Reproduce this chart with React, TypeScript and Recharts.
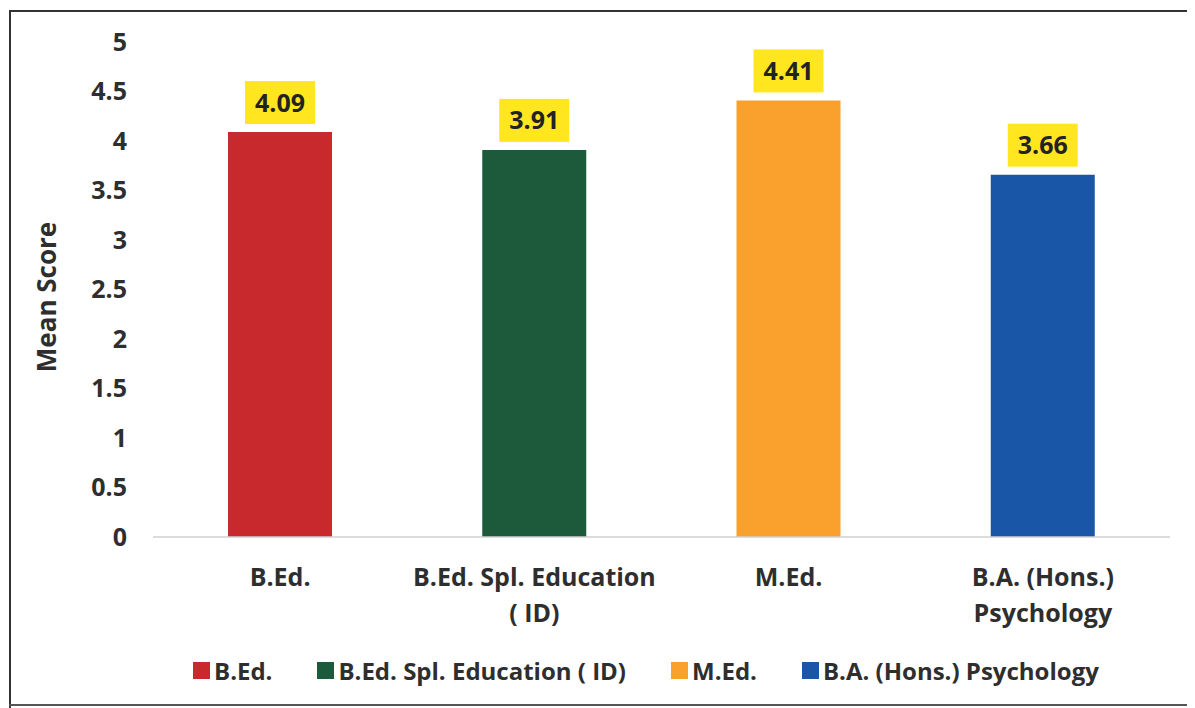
import React from "react";
import { BarChart, Bar, XAxis, YAxis, Cell, Legend, LabelList } from "recharts";

const categories = ["B.Ed.", "B.Ed. Spl. Education ( ID)", "M.Ed.", "B.A. (Hons.) Psychology"];
const tickLines = [["B.Ed."], ["B.Ed. Spl. Education", "( ID)"], ["M.Ed."], ["B.A. (Hons.)", "Psychology"]];
const meanScores = [4.09, 3.91, 4.41, 3.66];
const barColors = ["#C8292D", "#1C5A3B", "#F9A12C", "#1A56A8"];
const yTicks = [0, 0.5, 1, 1.5, 2, 2.5, 3, 3.5, 4, 4.5, 5];

const data = categories.map((name, i) => ({ name, value: meanScores[i], idx: i }));

const FONT = "'Open Sans', 'Lato', sans-serif";
const TEXT = "#2E2E2E";

const XTick = (props: any) => {
  const { x, y, index } = props;
  const lines = tickLines[index] || [];
  return (
    <g>
      {lines.map((ln, i) => (
        <text
          key={i}
          x={x}
          y={y + 41 + i * 36}
          textAnchor="middle"
          fontFamily={FONT}
          fontWeight={700}
          fontSize={25}
          fill={TEXT}
        >
          {ln}
        </text>
      ))}
    </g>
  );
};

const ValueLabel = (props: any) => {
  const { x, y, width, value } = props;
  const cx = x + width / 2;
  const bw = 70;
  const bh = 43;
  const top = y - 8 - bh;
  return (
    <g>
      <rect x={cx - bw / 2} y={top} width={bw} height={bh} fill="#FFE61E" />
      <text
        x={cx}
        y={top + bh / 2}
        dy="0.36em"
        textAnchor="middle"
        fontFamily={FONT}
        fontWeight={700}
        fontSize={25}
        fill="#222"
      >
        {value.toFixed(2)}
      </text>
    </g>
  );
};

const LegendContent = () => (
  <div
    style={{
      display: "flex",
      alignItems: "center",
      paddingLeft: 185,
      height: 30,
      fontFamily: FONT,
      fontWeight: 700,
      fontSize: 24,
      color: TEXT,
      whiteSpace: "nowrap",
    }}
  >
    {categories.map((c, i) => (
      <div key={c} style={{ display: "flex", alignItems: "center", marginRight: 45 }}>
        <span style={{ display: "inline-block", width: 17, height: 17, background: barColors[i], marginRight: 4 }} />
        <span>{c}</span>
      </div>
    ))}
  </div>
);

export default function App() {
  return (
    <div
      style={{
        position: "relative",
        width: 1187,
        height: 700,
        overflow: "hidden",
        background: "#fff",
      }}
    >
      <style>{`html, body { overflow: hidden; }`}</style>
      <div style={{ position: "absolute", left: 1, top: 2, width: 1300, height: 2, background: "#333" }} />
      <div style={{ position: "absolute", left: 1, top: 2, width: 2, height: 700, background: "#333" }} />
      <div style={{ position: "absolute", left: 1, top: 696, width: 1300, height: 2, background: "#555" }} />
      <div style={{ position: "absolute", left: 0, top: 0 }}>
        <BarChart
          width={1187}
          height={700}
          data={data}
          margin={{ top: 34, right: 25, left: 0, bottom: 23 }}
        >
          <XAxis
            dataKey="name"
            height={118}
            axisLine={{ stroke: "#D0D0D0", strokeWidth: 1.5 }}
            tickLine={false}
            tick={<XTick />}
            interval={0}
          />
          <YAxis
            width={145}
            domain={[0, 5]}
            ticks={yTicks}
            axisLine={false}
            tickLine={false}
            tickSize={0}
            tickMargin={26}
            tick={{ fontFamily: FONT, fontWeight: 700, fontSize: 25, fill: TEXT }}
            label={{
              content: () => (
                <text
                  x={38}
                  y={289}
                  transform="rotate(-90, 38, 289)"
                  textAnchor="middle"
                  dominantBaseline="central"
                  fontFamily={FONT}
                  fontWeight={700}
                  fontSize={26}
                  fill={TEXT}
                >
                  Mean Score
                </text>
              ),
            }}
          />
          <Legend verticalAlign="bottom" content={<LegendContent />} />
          <Bar dataKey="value" barSize={104} isAnimationActive={false}>
            {data.map((d, i) => (
              <Cell key={d.name} fill={barColors[i]} />
            ))}
            <LabelList dataKey="value" content={<ValueLabel />} />
          </Bar>
        </BarChart>
      </div>
    </div>
  );
}
